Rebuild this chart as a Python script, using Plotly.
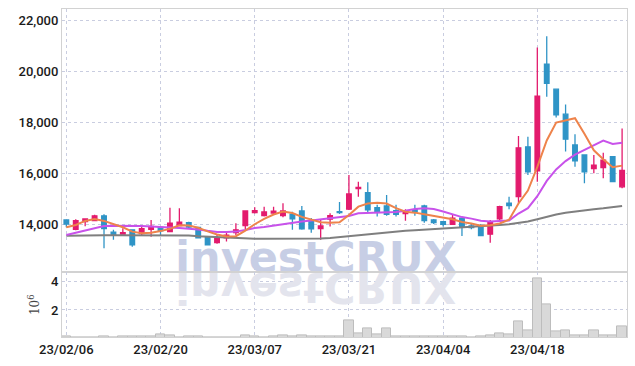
import plotly.graph_objects as go

# ---------------- data ----------------
dates = [
    "23/02/06", "23/02/07", "23/02/08", "23/02/09", "23/02/10",
    "23/02/13", "23/02/14", "23/02/15", "23/02/16", "23/02/17",
    "23/02/20", "23/02/21", "23/02/22", "23/02/23", "23/02/24",
    "23/02/27", "23/02/28", "23/03/02", "23/03/03",
    "23/03/06", "23/03/07", "23/03/08", "23/03/09", "23/03/10",
    "23/03/13", "23/03/14", "23/03/15", "23/03/16", "23/03/17",
    "23/03/20", "23/03/21", "23/03/22", "23/03/23", "23/03/24",
    "23/03/27", "23/03/28", "23/03/29", "23/03/30", "23/03/31",
    "23/04/03", "23/04/04", "23/04/05", "23/04/06", "23/04/07",
    "23/04/10", "23/04/11", "23/04/12", "23/04/13", "23/04/14",
    "23/04/17", "23/04/18", "23/04/19", "23/04/20", "23/04/21",
    "23/04/24", "23/04/25", "23/04/26", "23/04/27", "23/04/28",
    "23/05/02",
]

open_ = [14170, 13800, 14100, 14140, 14330, 13690, 13610, 13780, 13630, 13800,
         13880, 13710, 13950, 14060, 13880, 13510, 13280, 13470, 13670, 13950,
         14460, 14340, 14440, 14340, 14400, 14520, 14140, 13830, 14200, 14490,
         14590, 15400, 15240, 14650, 14720, 14530, 14420, 14570, 14720, 14170,
         14100, 14000, 14240, 13930, 13950, 13610, 14210, 14830, 15080, 17040,
         16100, 20280, 19300, 18320, 17110, 16720, 16180, 16220, 16650, 15470]

high = [14190, 14200, 14230, 14370, 14390, 13780, 13840, 13800, 13950, 14170,
        13890, 14650, 14630, 14100, 13890, 13520, 13580, 13690, 14040, 14530,
        14670, 14690, 14690, 14820, 14490, 14720, 14240, 14170, 14430, 14870,
        15930, 15670, 15650, 14760, 15150, 14760, 14590, 14760, 14760, 14210,
        14130, 14360, 14250, 14040, 14010, 14170, 14730, 15080, 17460, 17430,
        20940, 21380, 19300, 18700, 17530, 16720, 16720, 16810, 16680, 17760]

low = [13880, 13760, 13920, 14130, 13060, 13390, 13600, 13120, 13580, 13510,
       13580, 13690, 13930, 13850, 13450, 13180, 13230, 13320, 13580, 13780,
       14420, 14300, 14360, 14270, 13780, 13780, 13670, 13390, 13910, 14400,
       14560, 15080, 14460, 14300, 14330, 14300, 14140, 14330, 14060, 14010,
       13910, 13970, 13540, 13800, 13540, 13270, 14100, 14590, 14820, 15930,
       15670, 19000, 18190, 16850, 16260, 15610, 16000, 15800, 15670, 15410]

close = [14010, 14140, 14210, 14330, 13830, 13600, 13670, 13190, 13830, 13910,
         13740, 14040, 14080, 13890, 13470, 13190, 13470, 13570, 13780, 14520,
         14530, 14480, 14510, 14520, 14210, 13820, 13820, 13930, 14340, 14460,
         15190, 15450, 14560, 14470, 14390, 14390, 14520, 14490, 14140, 14060,
         14000, 14240, 13910, 13870, 13550, 14100, 14690, 14730, 17000, 16060,
         19030, 19530, 18290, 17340, 16490, 16060, 16320, 16520, 15670, 16110]

ma_short = [13880, 13970, 14130, 14200, 14130, 14010, 13880, 13710, 13650, 13670,
            13730, 13820, 13960, 13950, 13860, 13720, 13600, 13515, 13530, 13750,
            14000, 14210, 14380, 14500, 14440, 14290, 14175, 14075, 14060, 14080,
            14360, 14690, 14810, 14840, 14810, 14630, 14490, 14455, 14390, 14320,
            14250, 14195, 14085, 14030, 13940, 13960, 14030, 14180, 14815, 15320,
            16250, 17290, 17990, 18070, 18160, 17550, 16900, 16550, 16240, 16300]

ma_mid = [13580, 13670, 13780, 13870, 13930, 13945, 13945, 13940, 13930, 13910,
          13880, 13870, 13850, 13830, 13790, 13740, 13700, 13700, 13710, 13770,
          13850, 13890, 13950, 14010, 14060, 14110, 14150, 14190, 14230, 14265,
          14325, 14430, 14440, 14440, 14450, 14480, 14530, 14600, 14630, 14600,
          14500, 14380, 14280, 14220, 14140, 14110, 14130, 14150, 14420, 14630,
          15100, 15700, 16150, 16480, 16730, 16920, 17080, 17280, 17150, 17200]

ma_long = [13550, 13560, 13565, 13570, 13570, 13570, 13570, 13570, 13570, 13570,
           13570, 13570, 13570, 13560, 13530, 13510, 13490, 13470, 13455, 13445,
           13430, 13430, 13430, 13430, 13430, 13430, 13430, 13440, 13460, 13495,
           13530, 13575, 13620, 13660, 13690, 13720, 13740, 13765, 13785, 13805,
           13825, 13845, 13865, 13885, 13910, 13935, 13965, 13995, 14045, 14105,
           14195, 14295, 14380, 14450, 14505, 14550, 14590, 14625, 14665, 14715]

volume_m = [0.15, 0.05, 0.05, 0.06, 0.16, 0.06, 0.15, 0.16, 0.15, 0.15,
            0.25, 0.18, 0.08, 0.15, 0.15, 0.06, 0.06, 0.07, 0.08, 0.22,
            0.12, 0.08, 0.15, 0.22, 0.14, 0.22, 0.12, 0.10, 0.10, 0.12,
            1.29, 0.38, 0.70, 0.30, 0.71, 0.12, 0.12, 0.10, 0.12, 0.10,
            0.10, 0.10, 0.10, 0.08, 0.16, 0.23, 0.38, 0.30, 1.22, 0.57,
            4.24, 2.42, 0.52, 0.59, 0.22, 0.22, 0.59, 0.21, 0.21, 0.87]

x_tick_every = 10
price_dtick = 2000
volume_dtick = 2
watermark = "investCRUX"

# ---------------- styles / layout constants ----------------
W, H = 635, 366
ML, MR, MT, MB = 62, 8, 9, 29
VOL_FRAC = 0.197
X_RANGE = [-0.46, 59.52]
Y_RANGE = [12110, 22448]
V_RANGE = [0.09, 4.66]

UP = "#e31b6d"
DOWN = "#2f94c6"
C_SHORT = "#ee834b"
C_MID = "#c852ea"
C_LONG = "#7f7f7f"
GRID = "#c9cde0"
FRAME = "#d2d2d2"
TICK_FONT = dict(family="Roboto, Liberation Sans, sans-serif", size=13, color="#1a1a1a", weight=500)
WM_SIZE = 43
WM_FONT = "DejaVu Sans, Liberation Sans, sans-serif"
WM_COLOR = "rgb(199,206,229)"
WM_REFL = "rgb(227,228,237)"

idx = list(range(len(dates)))

plot_w = W - ML - MR
plot_h = H - MT - MB
main_bottom_px = MT + plot_h * (1 - VOL_FRAC)
main_h_px = plot_h * (1 - VOL_FRAC)
vol_h_px = plot_h * VOL_FRAC

# watermark placement (pixel design -> data coordinates)
wm_center_px = 316
wm_x = X_RANGE[0] + (wm_center_px - ML) / plot_w * (X_RANGE[1] - X_RANGE[0])
wm_base_px = main_bottom_px - 0.6
wm_pt_px = wm_base_px - 0.25 * WM_SIZE
wm_y = Y_RANGE[0] + (main_bottom_px - wm_pt_px) / main_h_px * (Y_RANGE[1] - Y_RANGE[0])
refl_base_px = main_bottom_px + 0.8
refl_pt_px = refl_base_px + 0.25 * WM_SIZE
refl_y = V_RANGE[1] - (refl_pt_px - main_bottom_px) / vol_h_px * (V_RANGE[1] - V_RANGE[0])

fig = go.Figure()

# watermark (base subplot, below price marks)
fig.add_trace(go.Scatter(
    x=[wm_x], y=[wm_y], mode="text", text=["<b>" + watermark + "</b>"], textposition="middle center",
    textfont=dict(family=WM_FONT, size=WM_SIZE, color=WM_COLOR),
    hoverinfo="skip", showlegend=False, xaxis="x", yaxis="y"))

# watermark reflection in volume pane (flipped by post script)
fig.add_trace(go.Scatter(
    x=[wm_x], y=[refl_y], mode="text", text=["<b>" + watermark + "</b>"], textposition="top center",
    textfont=dict(family=WM_FONT, size=WM_SIZE, color=WM_REFL),
    hoverinfo="skip", showlegend=False, xaxis="x2", yaxis="y2"))

# volume bars
fig.add_trace(go.Bar(
    x=idx, y=volume_m, marker=dict(color="#d9d9d9", line=dict(color="#bdbdbd", width=1)),
    showlegend=False, xaxis="x2", yaxis="y2", hoverinfo="skip"))

# candles on overlay axis (drawn above watermark)
fig.add_trace(go.Candlestick(
    x=idx, open=open_, high=high, low=low, close=close,
    increasing=dict(line=dict(color=UP, width=1.3), fillcolor=UP),
    decreasing=dict(line=dict(color=DOWN, width=1.3), fillcolor=DOWN),
    whiskerwidth=0, showlegend=False, xaxis="x", yaxis="y3"))

for vals, col in [(ma_long, C_LONG), (ma_mid, C_MID), (ma_short, C_SHORT)]:
    fig.add_trace(go.Scatter(
        x=idx, y=vals, mode="lines", line=dict(color=col, width=2),
        showlegend=False, hoverinfo="skip", xaxis="x", yaxis="y3"))

tickvals = idx[::x_tick_every]
ticktext = dates[::x_tick_every]

common_x = dict(range=X_RANGE, tickmode="array", tickvals=tickvals, ticktext=ticktext,
                showgrid=True, gridcolor=GRID, griddash="dot", gridwidth=1,
                showline=True, linecolor=FRAME, linewidth=1, mirror=True,
                zeroline=False, ticks="", tickfont=TICK_FONT, fixedrange=True)

fig.update_layout(
    width=W, height=H,
    margin=dict(l=ML, r=MR, t=MT, b=MB, pad=0),
    paper_bgcolor="white", plot_bgcolor="white",
    showlegend=False,
    bargap=0,
    xaxis=dict(**common_x, anchor="y", domain=[0, 1], showticklabels=False,
               rangeslider=dict(visible=False)),
    xaxis2=dict(**common_x, anchor="y2", domain=[0, 1], showticklabels=True),
    yaxis=dict(domain=[VOL_FRAC, 1], anchor="x", range=Y_RANGE, dtick=price_dtick,
               tickformat=",d", showgrid=True, gridcolor=GRID, griddash="dot",
               showline=True, linecolor=FRAME, linewidth=1, mirror=True,
               zeroline=False, ticks="", tickfont=TICK_FONT, fixedrange=True),
    yaxis3=dict(overlaying="y", anchor="x", range=Y_RANGE, visible=False,
                showgrid=False, fixedrange=True),
    yaxis2=dict(domain=[0, VOL_FRAC], anchor="x2", range=V_RANGE, dtick=volume_dtick,
                showgrid=True, gridcolor=GRID, griddash="dot",
                showline=True, linecolor=FRAME, linewidth=1, mirror=True,
                zeroline=False, ticks="", tickfont=TICK_FONT, fixedrange=True,
                title=dict(text="10<sup>6</sup>", standoff=8,
                           font=dict(family="DejaVu Serif", size=12, color="#444"))),
)

post = """
document.documentElement.style.margin = '0';
document.body.style.margin = '0';
document.body.style.padding = '0';
var gd = document.getElementById('{plot_id}');
function flipWm(){
  var ts = gd.querySelectorAll('.subplot.x2y2 g.textpoint text');
  ts.forEach(function(t){
    var y = parseFloat(t.getAttribute('y'));
    t.setAttribute('transform', 'matrix(1,0,0,-1,0,' + (2 * y) + ')');
  });
}
flipWm();
gd.on('plotly_afterplot', flipWm);
"""

fig.write_html("out.html", post_script=post, config={"displayModeBar": False})
